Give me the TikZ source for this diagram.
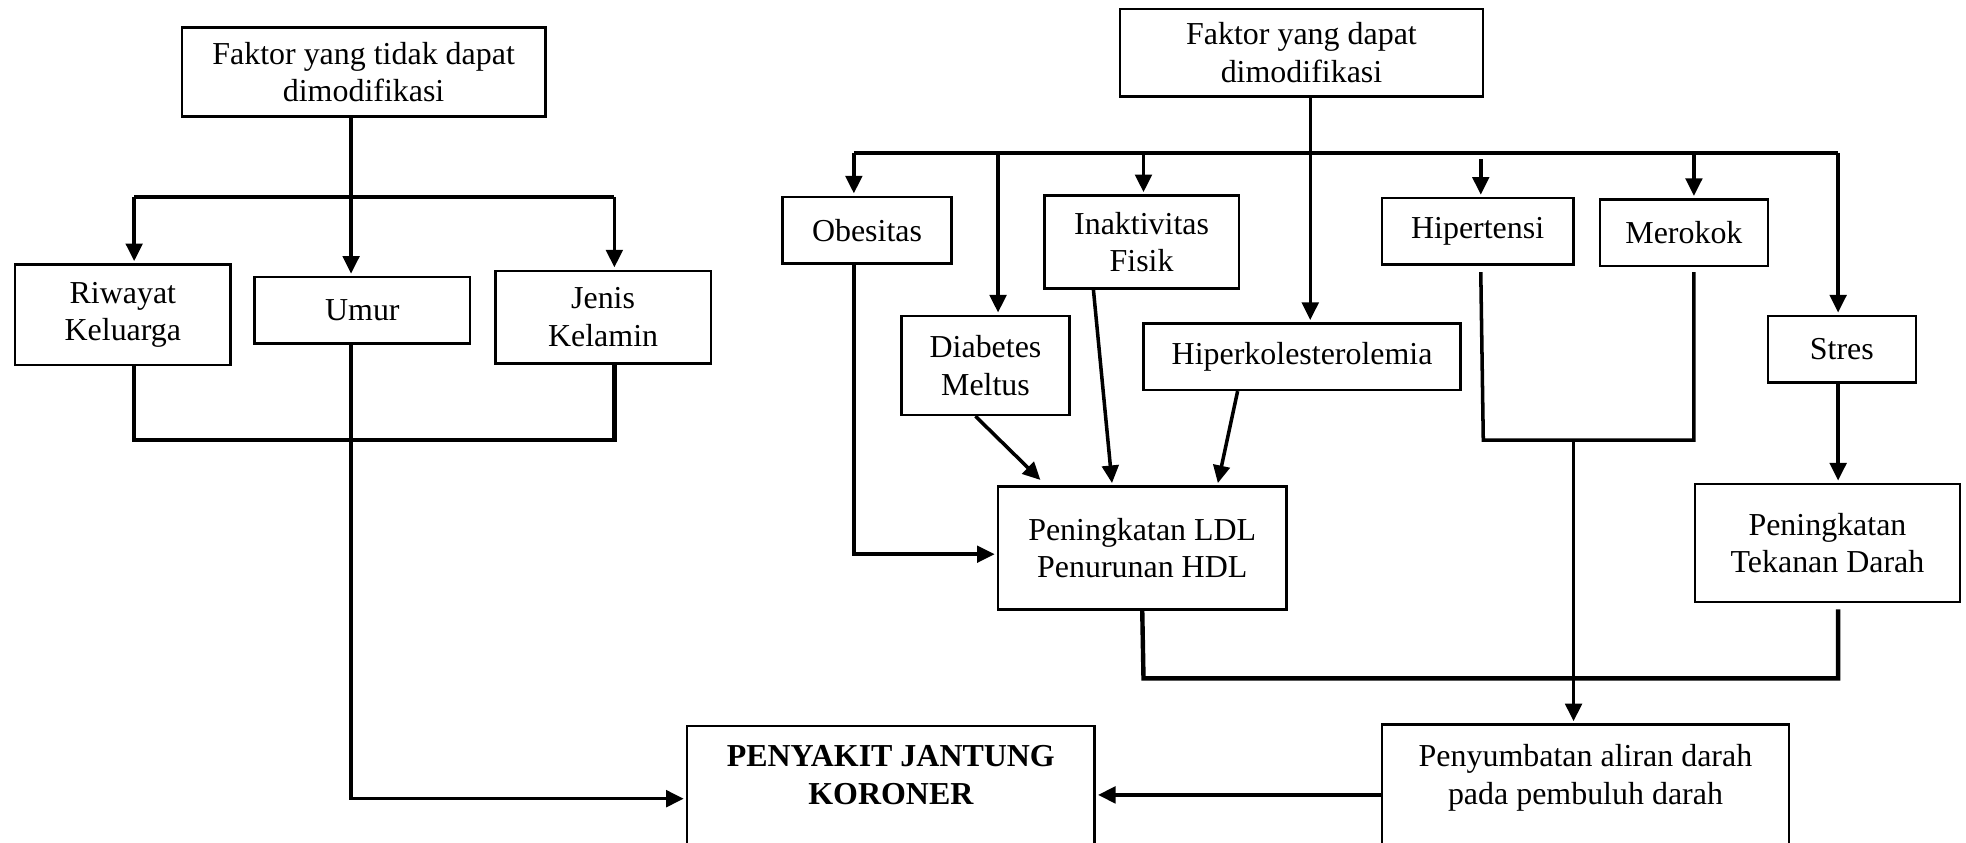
\documentclass[tikz,border=0pt]{standalone}
\usepackage{fontspec}
\setmainfont{Liberation Serif}
\usepackage{tikz}
\usetikzlibrary{arrows.meta, positioning, calc}

\begin{document}
\begin{tikzpicture}[
    x=0.02cm, y=-0.02cm,
    every node/.style={font=\fontsize{14.5}{17}\selectfont},
    box/.style={draw, line width=1.1pt, align=center, inner sep=2pt},
    conn/.style={line width=1.6pt},
    bus/.style={line width=2pt},
    arr/.style={conn, shorten >=1pt, -{Triangle[length=8pt, width=7.5pt]}}
]
\useasboundingbox (0,0) rectangle (1568,672);

% Faktor yang tidak dapat dimodifikasi
\node[box, minimum width=5.8cm, minimum height=1.42cm] (ft) at (290,57.5) {Faktor yang tidak dapat\\dimodifikasi};
\node[box, minimum width=3.44cm, minimum height=1.6cm] (riwayat) at (98,251) {Riwayat\\Keluarga};
\node[box, minimum width=3.44cm, minimum height=1.06cm] (umur) at (289,247.5) {Umur};
\node[box, minimum width=3.44cm, minimum height=1.48cm] (jenis) at (481,253) {Jenis\\Kelamin};

% Faktor yang dapat dimodifikasi
\node[box, minimum width=5.8cm, minimum height=1.4cm] (fd) at (1038,42) {Faktor yang dapat\\dimodifikasi};
\node[box, minimum width=2.7cm, minimum height=1.06cm] (obesitas) at (691.5,183.5) {Obesitas};
\node[box, minimum width=2.68cm, minimum height=1.58cm] (diabetes) at (786,291.5) {Diabetes\\Meltus};
\node[box, minimum width=3.1cm, minimum height=1.48cm] (inaktivitas) at (910.5,193) {Inaktivitas\\Fisik};
\node[box, minimum width=5.06cm, minimum height=1.06cm] (hiperkol) at (1038.5,284.5) {Hiperkolesterolemia};
\node[box, minimum width=3.06cm, minimum height=1.06cm] (hipertensi) at (1178.5,184.5) {Hipertensi};
\node[box, minimum width=2.68cm, minimum height=1.06cm] (merokok) at (1343,185.5) {Merokok};
\node[box, minimum width=2.36cm, minimum height=1.06cm] (stres) at (1469,278.5) {Stres};

% Akibat
\node[box, minimum width=4.6cm, minimum height=1.96cm] (ldl) at (911,437) {Peningkatan LDL\\Penurunan HDL};
\node[box, minimum width=4.22cm, minimum height=1.88cm] (tekanan) at (1457.5,433) {Peningkatan\\Tekanan Darah};
\node[box, anchor=north, inner ysep=9pt, minimum width=6.5cm] (peny) at (1264.5,577) {Penyumbatan aliran darah\\pada pembuluh darah\\[30pt]\strut};
\node[box, anchor=north, inner ysep=9pt, minimum width=6.5cm, font=\fontsize{14.5}{17}\selectfont\bfseries] (pjk) at (710.5,578) {PENYAKIT JANTUNG\\KORONER\\[30pt]\strut};

% Left branch
\coordinate (lb1) at (107,157);
\coordinate (lb2) at (280,157);
\coordinate (lb3) at (490,157);
\coordinate (lb4) at (107,351);
\coordinate (lb5) at (490,351);
\coordinate (pjkin) at ($(pjk.north west)+(0,59)$);
\draw[conn] (ft.south -| lb2) -- (lb2);
\draw[bus] (lb1) -- (lb3);
\draw[arr] (lb1) -- (lb1 |- riwayat.north);
\draw[arr] (lb2) -- (lb2 |- umur.north);
\draw[arr] (lb3) -- (lb3 |- jenis.north);
\draw[bus] (lb1 |- riwayat.south) -- (lb4) -- (lb5) -- (lb3 |- jenis.south);
\draw[arr] (lb2 |- umur.south) |- (pjkin);

% Right branch
\coordinate (rb1) at (681,122);
\coordinate (rb2) at (796,122);
\coordinate (rb3) at (912,122);
\coordinate (rb4) at (1045,122);
\coordinate (rb5) at (1181,122);
\coordinate (rb6) at (1351,122);
\coordinate (rb7) at (1466,122);
\draw[bus] (rb1) -- (rb7);
\draw[arr] (fd.south -| rb4) -- (rb4 |- hiperkol.north);
\foreach \c/\n in {rb1/obesitas, rb2/diabetes, rb3/inaktivitas, rb6/merokok, rb7/stres}
    \draw[arr] (\c) -- (\c |- \n.north);
\draw[arr] ($(rb5)+(0,5)$) -- (rb5 |- hipertensi.north);

% Into LDL/HDL
\draw[arr] (rb1 |- obesitas.south) |- ($(ldl.west)+(0,5)$);
\draw[arr] ($(diabetes.south)+(-8,0)$) -- ($(ldl.north west)+(36,-3)$);
\draw[arr] ($(inaktivitas.south west)+(40,0)$) -- ($(ldl.north west)+(92,0)$);
\draw[arr] ($(hiperkol.south west)+(76,0)$) -- ($(ldl.north east)+(-56,0)$);

% Hipertensi, Merokok
\coordinate (hb1) at (1183,351);
\coordinate (hb2) at (1351,351);
\coordinate (hb3) at (1255,351);
\draw[conn] ($(rb5 |- hipertensi.south)+(0,5)$) -- (hb1) -- (hb2) -- ($(rb6 |- merokok.south)+(0,4)$);
\draw[arr] (hb3) -- (hb3 |- peny.north);

% Stres
\draw[arr] (rb7 |- stres.south) -- (rb7 |- tekanan.north);

% LDL and Tekanan Darah
\coordinate (lt1) at (912,541);
\coordinate (lt2) at (1466,541);
\draw[bus] (ldl.south) -- (lt1) -- (lt2) -- ($(rb7 |- tekanan.south)+(0,5)$);

% Penyumbatan to PJK
\draw[arr] ($(peny.north west)+(0,57)$) -- ($(pjk.north east)+(0,56)$);

\end{tikzpicture}
\end{document}
